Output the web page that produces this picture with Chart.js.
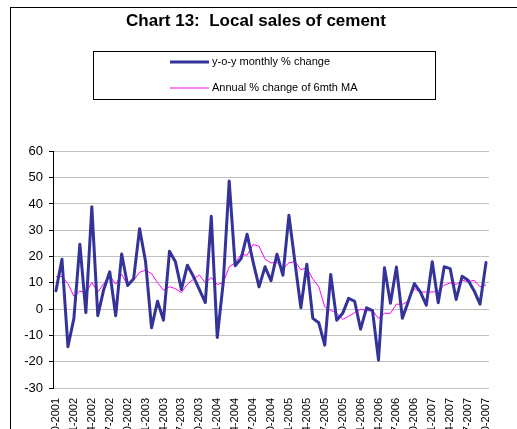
<!DOCTYPE html>
<html>
<head>
<meta charset="utf-8">
<title>Chart 13: Local sales of cement</title>
<script src="https://cdn.jsdelivr.net/npm/chart.js@4.4.0/dist/chart.umd.min.js"></script>
<style>
    html, body { margin: 0; padding: 0; background: #fff; overflow: hidden; }
    #frame {
        position: absolute; left: 10px; top: 7px;
        width: 600px; height: 500px;
        border-left: 1px solid #000; border-top: 1px solid #000;
    }
    #cementChart { display: block; }
</style>
</head>
<body>
<div id="frame">
    <canvas id="cementChart" width="505" height="450"></canvas>
</div>
<script>
    var months = [
        "10-2001", "11-2001", "12-2001",
        "01-2002", "02-2002", "03-2002", "04-2002", "05-2002", "06-2002", "07-2002", "08-2002", "09-2002", "10-2002", "11-2002", "12-2002",
        "01-2003", "02-2003", "03-2003", "04-2003", "05-2003", "06-2003", "07-2003", "08-2003", "09-2003", "10-2003", "11-2003", "12-2003",
        "01-2004", "02-2004", "03-2004", "04-2004", "05-2004", "06-2004", "07-2004", "08-2004", "09-2004", "10-2004", "11-2004", "12-2004",
        "01-2005", "02-2005", "03-2005", "04-2005", "05-2005", "06-2005", "07-2005", "08-2005", "09-2005", "10-2005", "11-2005", "12-2005",
        "01-2006", "02-2006", "03-2006", "04-2006", "05-2006", "06-2006", "07-2006", "08-2006", "09-2006", "10-2006", "11-2006", "12-2006",
        "01-2007", "02-2007", "03-2007", "04-2007", "05-2007", "06-2007", "07-2007", "08-2007", "09-2007", "10-2007"
    ];

    // y-o-y monthly % change
    var yoyChange = [
        7, 19, -14.3,
        -3.5, 24.7, -1.3, 38.9, -2.5, 7.5, 14.2, -2.5, 21, 9, 11.6, 30.6,
        18, -7.1, 3, -4.2, 22, 18, 7.5, 16.7, 12.5, 7.5, 2.5, 35.3,
        -10.8, 10, 48.7, 16.5, 19.2, 28.5, 18, 8.5, 16.1, 10.8, 20.9, 12.9,
        35.7, 18, 0.5, 17.1, -3.5, -5.2, -13.7, 13.2, -4.2, -1.6, 4.1, 3,
        -7.6, 0.5, -0.6, -19.4, 15.7, 2.2, 16, -3.5, 3, 9.7, 6.6, 1.5,
        18, 2.4, 16.1, 15.4, 3.7, 12.5, 11, 7, 1.9, 17.7
    ];

    // Annual % change of 6mth MA
    var maChange = [
        12.3, 12.5, 9.7,
        4.9, 6.9, 6.2, 10.1, 6.5, 9.7, 12.7, 9.5, 13.3, 8.9, 11, 14,
        14.8, 13.5, 10.1, 7.2, 8.5, 7.8, 6.3, 9.5, 11.3, 13, 10, 12,
        9.4, 10, 16.1, 17.6, 20.8, 20.5, 24.6, 23.9, 19, 17.6, 17.8, 15.4,
        17.6, 18.1, 15, 15.7, 11.5, 8.5, 0.9, -0.4, -1.6, -3.9, -2.7, -1.4,
        0, -0.6, -0.6, -3.5, -1.6, -1.6, 1.9, 1.8, 3, 7.8, 6.5, 6.5,
        6.5, 6.8, 9.1, 10, 9.4, 11, 10.4, 11, 8.5, 9.2
    ];

    var yTickMin = -30;
    var yTickMax = 60;
    var yTickStep = 10;

    var fontFamily = "'Liberation Sans', Arial, sans-serif";

    // Excel style legend: a framed box with the entries stacked
    var boxLegend = {
        id: "boxLegend",
        afterDraw: function (chart) {
            var ctx = chart.ctx;
            var left = 82, top = 43, width = 342, height = 48;
            ctx.save();
            ctx.strokeStyle = "#000";
            ctx.lineWidth = 1;
            ctx.strokeRect(left + 0.5, top + 0.5, width, height);

            ctx.font = "11px " + fontFamily;
            ctx.textBaseline = "middle";
            ctx.fillStyle = "#000";
            chart.data.datasets.forEach(function (ds, i) {
                var y = top + 11 + i * 26;
                ctx.beginPath();
                ctx.strokeStyle = ds.borderColor;
                ctx.lineWidth = ds.borderWidth;
                ctx.moveTo(159, y);
                ctx.lineTo(198, y);
                ctx.stroke();
                ctx.fillText(ds.label, 201, y);
            });
            ctx.restore();
        }
    };

    var ctx = document.getElementById("cementChart").getContext("2d");

    new Chart(ctx, {
        type: "line",
        data: {
            labels: months,
            datasets: [
                {
                    label: "y-o-y monthly % change",
                    data: yoyChange,
                    borderColor: "#333399",
                    borderWidth: 3,
                    borderJoinStyle: "round",
                    borderCapStyle: "round",
                    pointRadius: 0,
                    tension: 0,
                    fill: false
                },
                {
                    label: "Annual % change of 6mth MA",
                    data: maChange,
                    borderColor: "#ff00ff",
                    borderWidth: 1,
                    borderJoinStyle: "round",
                    pointRadius: 0,
                    tension: 0,
                    fill: false
                }
            ]
        },
        options: {
            responsive: false,
            animation: false,
            devicePixelRatio: 1,
            layout: {
                padding: { left: 12, right: 27, top: 0, bottom: 0 }
            },
            plugins: {
                legend: { display: false },
                tooltip: { enabled: false },
                title: {
                    display: true,
                    text: "Chart 13:  Local sales of cement",
                    color: "#000",
                    font: { family: fontFamily, size: 17, weight: "bold" },
                    padding: { top: 3, bottom: 120 }
                }
            },
            scales: {
                x: {
                    offset: true,
                    grid: { display: false, drawTicks: false },
                    border: { display: false },
                    afterFit: function (scale) { scale.height = 70; },
                    ticks: {
                        autoSkip: false,
                        minRotation: 90,
                        maxRotation: 90,
                        padding: 10,
                        color: "#000",
                        font: { family: fontFamily, size: 11 },
                        callback: function (value, index) {
                            return index % 3 === 0 ? this.getLabelForValue(value) : "";
                        }
                    }
                },
                y: {
                    min: yTickMin,
                    max: yTickMax,
                    afterFit: function (scale) { scale.width = 30; },
                    grid: {
                        color: "#c0c0c0",
                        tickColor: "#000",
                        tickLength: 4,
                        lineWidth: 1
                    },
                    border: { display: true, color: "#000", width: 1 },
                    ticks: {
                        stepSize: yTickStep,
                        padding: 6,
                        color: "#000",
                        font: { family: fontFamily, size: 13 }
                    }
                }
            }
        },
        plugins: [boxLegend]
    });
</script>
</body>
</html>
